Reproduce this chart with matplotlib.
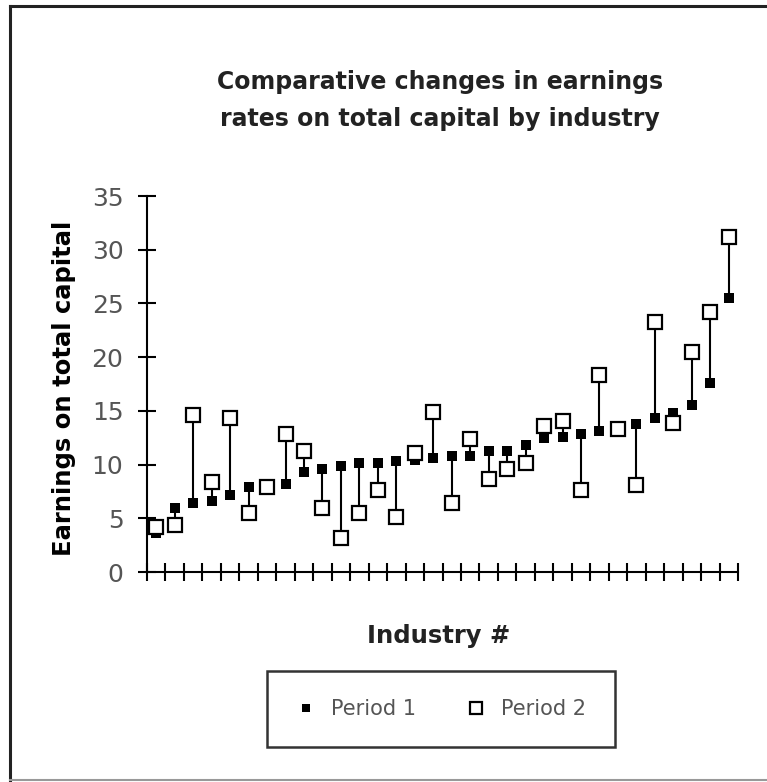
import matplotlib
matplotlib.use('Agg')
import matplotlib.pyplot as plt
from matplotlib.lines import Line2D
import numpy as np

# earnings on total capital per industry, sorted by period 1
period1 = [3.6, 6.0, 6.4, 6.6, 7.2, 7.9, 7.9, 8.2, 9.3, 9.6, 9.9, 10.1, 10.1, 10.3, 10.4, 10.6,
           10.8, 10.8, 11.3, 11.3, 11.8, 12.5, 12.6, 12.8, 13.1, 13.3, 13.8, 14.3, 14.8, 15.5, 17.6, 25.5]
period2 = [4.2, 4.4, 14.6, 8.4, 14.3, 5.5, 7.9, 12.8, 11.3, 6.0, 3.2, 5.5, 7.6, 5.1, 11.1, 14.9,
           6.4, 12.4, 8.7, 9.6, 10.1, 13.6, 14.1, 7.6, 18.3, 13.3, 8.1, 23.3, 13.9, 20.5, 24.2, 31.2]
yticks = [0, 5, 10, 15, 20, 25, 30, 35]

W, H = 767, 782
fig = plt.figure(figsize=(W / 100, H / 100), dpi=100)
ax = fig.add_axes([147 / W, 1 - 572 / H, 591 / W, 376 / H])

x = np.arange(len(period1))
lo = np.minimum(period1, period2)
hi = np.maximum(period1, period2)
ax.vlines(x, lo, hi, color='black', lw=1.5, zorder=1)
ax.plot(x, period1, 's', ms=7, mfc='black', mec='black', mew=0, zorder=2, label='Period 1')
ax.plot(x, period2, 's', ms=10, mfc='white', mec='black', mew=1.6, zorder=3, label='Period 2')

ax.set_xlim(-0.5, len(period1) - 0.5)
ax.set_ylim(0, 35)
ax.set_yticks(yticks)
ax.set_xticks(np.arange(-0.5, len(period1), 1.0))
ax.set_xticklabels([])
for s in ['top', 'right']:
    ax.spines[s].set_visible(False)
for s in ['left', 'bottom']:
    ax.spines[s].set_linewidth(1.5)
ax.tick_params(axis='both', direction='inout', length=13, width=1.5)
ax.tick_params(axis='y', labelsize=18, labelcolor='#555555', pad=10.5)

fig.text(440 / W, 1 - 82 / H, 'Comparative changes in earnings', ha='center', va='center',
         fontsize=17, fontweight='bold', color='#222222')
fig.text(440 / W, 1 - 119 / H, 'rates on total capital by industry', ha='center', va='center',
         fontsize=17, fontweight='bold', color='#222222')
fig.text(64 / W, 1 - 388 / H, 'Earnings on total capital', rotation=90, ha='center', va='center',
         fontsize=17.5, fontweight='bold', color='black')
fig.text(439 / W, 1 - 636 / H, 'Industry #', ha='center', va='center',
         fontsize=17.5, fontweight='bold', color='#222222')

leg = fig.legend(loc='center', bbox_to_anchor=(441 / W, 1 - 709 / H), ncol=2, frameon=True,
                 fancybox=False, edgecolor='black', fontsize=15, handlelength=1.0,
                 handletextpad=0.7, columnspacing=2.4, borderpad=1.35, borderaxespad=0,
                 markerscale=0.8)
leg.get_frame().set_linewidth(1.8)
for t in leg.get_texts():
    t.set_color('#555555')

# outer frame
fig.add_artist(Line2D([10 / W, 10 / W], [1 - 6 / H, 1 - 781 / H], color='#222222', lw=2.2,
                      transform=fig.transFigure))
fig.add_artist(Line2D([10 / W, 1], [1 - 6 / H, 1 - 6 / H], color='#222222', lw=2.2,
                      transform=fig.transFigure))
fig.add_artist(Line2D([10 / W, 1], [1 - 780 / H, 1 - 780 / H], color='#999999', lw=1.5,
                      transform=fig.transFigure))

fig.savefig('out.png', dpi=100)
